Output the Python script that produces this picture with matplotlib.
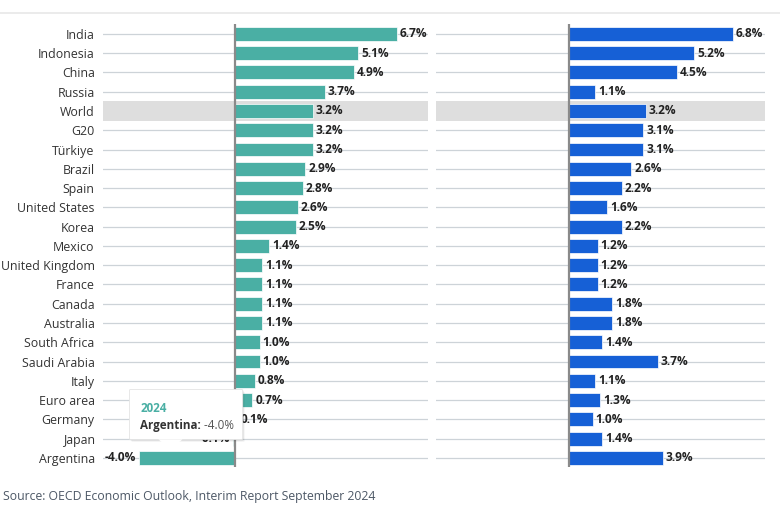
import matplotlib
matplotlib.use("Agg")
import matplotlib.pyplot as plt
from matplotlib.patches import FancyBboxPatch, Polygon

plt.rcParams["font.family"] = ["Open Sans", "DejaVu Sans"]

COUNTRIES = ["India", "Indonesia", "China", "Russia", "World", "G20", "Türkiye",
             "Brazil", "Spain", "United States", "Korea", "Mexico", "United Kingdom",
             "France", "Canada", "Australia", "South Africa", "Saudi Arabia", "Italy",
             "Euro area", "Germany", "Japan", "Argentina"]
G2024 = [6.7, 5.1, 4.9, 3.7, 3.2, 3.2, 3.2, 2.9, 2.8, 2.6, 2.5, 1.4, 1.1,
         1.1, 1.1, 1.1, 1.0, 1.0, 0.8, 0.7, 0.1, -0.1, -4.0]
G2025 = [6.8, 5.2, 4.5, 1.1, 3.2, 3.1, 3.1, 2.6, 2.2, 1.6, 2.2, 1.2, 1.2,
         1.2, 1.8, 1.8, 1.4, 3.7, 1.1, 1.3, 1.0, 1.4, 3.9]
TEAL = "#4aafa4"
BLUE = "#1660d6"
GRID = "#cdd3d8"

fig = plt.figure(figsize=(7.8, 5.16), dpi=100)
ax1 = fig.add_axes([0.132, 0.094, 0.417, 0.859])
ax2 = fig.add_axes([0.559, 0.094, 0.422, 0.859])

y = list(range(len(COUNTRIES)))
world = COUNTRIES.index("World")


def panel(ax, vals, color, xmax):
    ax.set_xlim(-5.5, xmax)
    ax.set_ylim(len(COUNTRIES) - 0.5, -0.5)
    for yi in y:
        ax.axhline(yi, color=GRID, lw=0.9, zorder=0)
    ax.axhspan(world - 0.5, world + 0.5, color="#dedede", lw=0, zorder=0.5)
    ax.barh(y, vals, height=0.72, color=color, edgecolor="white", lw=0.5, zorder=2)
    ax.axvline(0, color="#8a8a8a", lw=1.6, zorder=3)
    for yi, v in zip(y, vals):
        if v >= 0:
            ax.text(v + 0.12, yi, f"{v:.1f}%", va="center", ha="left",
                    fontsize=8.6, fontweight="bold", color="#222222", zorder=4)
        else:
            ax.text(v - 0.12, yi, f"{v:.1f}%", va="center", ha="right",
                    fontsize=8.6, fontweight="bold", color="#222222", zorder=4)
    ax.set_xticks([])
    for s in ax.spines.values():
        s.set_visible(False)


panel(ax1, G2024, TEAL, 8.0)
panel(ax2, G2025, BLUE, 8.15)

ax1.set_yticks(y)
ax1.set_yticklabels(COUNTRIES, fontsize=8.9, color="#333333")
ax1.tick_params(axis="y", length=0, pad=6)
ax2.set_yticks([])

# tooltip over Argentina
for dx, dy, a in [(0.08, 0.12, 0.05), (0.04, 0.06, 0.07)]:
    ax1.add_patch(FancyBboxPatch((-4.4 + dx, 18.45 + dy), 4.7, 2.6,
                                 boxstyle="round,pad=0,rounding_size=0.15",
                                 fc="#000000", alpha=a, ec="none", zorder=9,
                                 clip_on=False, mutation_aspect=1 / 6))
box = FancyBboxPatch((-4.4, 18.45), 4.7, 2.6, boxstyle="round,pad=0,rounding_size=0.15",
                     fc="white", ec="#e4e4e4", lw=0.6, zorder=10, clip_on=False,
                     mutation_aspect=1 / 6)
ax1.add_patch(box)
ax1.add_patch(Polygon([(-3.2, 21.04), (-2.2, 21.04), (-2.7, 21.55)], closed=True,
                      fc="white", ec="none", zorder=11, clip_on=False))
ax1.text(-3.95, 19.45, "2024", fontsize=8.4, fontweight="bold", color=TEAL,
         va="center", ha="left", zorder=12)
t = ax1.text(-3.95, 20.3, "Argentina:", fontsize=8.4, fontweight="bold", color="#333333",
             va="center", ha="left", zorder=12)
ax1.annotate(" -4.0%", xycoords=t, xy=(1, 0.5), va="center", ha="left",
             fontsize=8.4, color="#555555", zorder=12)

fig.add_artist(plt.Line2D([0, 1], [0.975, 0.975], color="#e8e8e8", lw=1.2))
fig.text(0.004, 0.037, "Source: OECD Economic Outlook, Interim Report September 2024",
         fontsize=8.8, color="#4d5866", va="center", ha="left")

fig.savefig("out.png", dpi=100)
